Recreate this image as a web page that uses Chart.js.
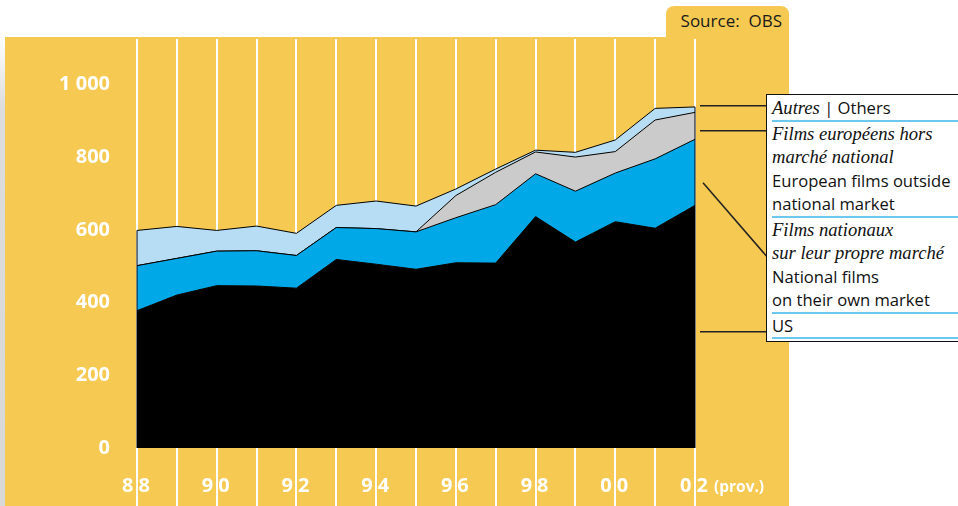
<!DOCTYPE html>
<html>
<head>
<meta charset="utf-8">
<script src="https://cdn.jsdelivr.net/npm/chart.js@4.4.1/dist/chart.umd.min.js"></script>
<style>
  body { margin: 0; background: #fff; }
  #wrap { position: relative; width: 958px; height: 506px; overflow: hidden; font-family: "Open Sans", sans-serif; }
  #panel { position: absolute; left: 5px; top: 37px; width: 784px; height: 469px; background: #F6C952; }
  #shade { position: absolute; left: 0; top: 37px; width: 5px; height: 469px;
           background: linear-gradient(to bottom, #fff, #dcdcdc 70px, #d8d8d8); }
  #source { position: absolute; left: 666px; top: 6px; width: 123px; height: 31px; background: #F6C952;
            border-radius: 8px 8px 0 0; color: #1a1a1a; font-size: 17px; line-height: 29px;
            text-align: right; box-sizing: border-box; padding-right: 7px; white-space: pre; }
  #chartBox { position: absolute; left: 0; top: 0; width: 958px; height: 506px; }
  #leaders { position: absolute; left: 0; top: 0; }
  #legend { position: absolute; left: 766px; top: 94px; width: 220px; height: 248px;
            background: #fff; border: 1.5px solid #111; box-sizing: border-box; padding-top: 1px; }
  .entry { margin-left: 5px; border-bottom: 2px solid #6cc8ef; }
  .entry div { height: 23.5px; line-height: 23.5px; white-space: nowrap; color: #111; }
  .fr { font-family: "Liberation Serif", serif; font-style: italic; font-size: 18.6px; }
  .en { font-family: "Open Sans", sans-serif; font-size: 16.6px; }
</style>
</head>
<body>
<div id="wrap">
  <div id="shade"></div>
  <div id="panel"></div>
  <div id="source">Source:  OBS</div>
  <div id="chartBox"><canvas id="areaChart"></canvas></div>
  <svg id="leaders" width="958" height="506">
    <g stroke="#222" stroke-width="1.5">
      <line x1="700" y1="105.7" x2="767" y2="105.7"/>
      <line x1="700" y1="130.7" x2="767" y2="130.7"/>
      <line x1="703" y1="182.7" x2="767" y2="256.7"/>
      <line x1="700" y1="331.7" x2="767" y2="331.7"/>
    </g>
  </svg>
  <div id="legend">
    <div class="entry"><div><span class="fr">Autres</span><span class="en"> | Others</span></div></div>
    <div class="entry">
      <div class="fr">Films européens hors</div>
      <div class="fr">marché national</div>
      <div class="en">European films outside</div>
      <div class="en">national market</div>
    </div>
    <div class="entry">
      <div class="fr">Films nationaux</div>
      <div class="fr">sur leur propre marché</div>
      <div class="en">National films</div>
      <div class="en">on their own market</div>
    </div>
    <div class="entry"><div class="en">US</div></div>
  </div>
</div>

<script>
// admissions (millions), 1988 - 2002
const years = ['88', '89', '90', '91', '92', '93', '94', '95', '96', '97', '98', '99', '00', '01', '02'];
const shownYears = ['88', '90', '92', '94', '96', '98', '00', '02'];
const yTicks = [0, 200, 400, 600, 800, 1000];

const us = [378, 421, 447, 446, 440, 519, 506, 492, 510, 509, 637, 567, 623, 605, 668];
const national = [124, 101, 95, 97, 90, 88, 98, 103, 124, 161, 118, 140, 134, 191, 182];
const european = [0, 0, 0, 0, 0, 0, 0, 0, 61, 89, 60, 94, 59, 107, 74];
const others = [97, 88, 57, 68, 61, 61, 76, 71, 18, 9, 5, 13, 32, 32, 15];

const labelFont = 'bold 20px "Open Sans"';

// closes the stacked shape on left and right with a thin black edge
const edgePlugin = {
  id: 'edges',
  afterDatasetsDraw(chart) {
    const ctx = chart.ctx;
    const top = chart.getDatasetMeta(3).data;
    const base = chart.scales.y.getPixelForValue(0);
    ctx.save();
    ctx.strokeStyle = '#000';
    ctx.lineWidth = 1;
    [top[0], top[top.length - 1]].forEach(p => {
      ctx.beginPath();
      ctx.moveTo(p.x, p.y);
      ctx.lineTo(p.x, base);
      ctx.stroke();
    });
    ctx.restore();
  }
};

// year labels split across the white grid line: "8|8"
const yearLabelPlugin = {
  id: 'yearLabels',
  afterDraw(chart) {
    const ctx = chart.ctx;
    const xs = chart.scales.x;
    const y = 486;
    ctx.save();
    ctx.fillStyle = '#fff';
    ctx.font = labelFont;
    ctx.textBaseline = 'middle';
    shownYears.forEach(lbl => {
      const x = xs.getPixelForValue(years.indexOf(lbl));
      ctx.textAlign = 'right';
      ctx.fillText(lbl[0], x - 3.5, y);
      ctx.textAlign = 'left';
      ctx.fillText(lbl[1], x + 1.5, y);
      if (lbl === '02') {
        const w = ctx.measureText(lbl[1]).width;
        ctx.font = 'bold 15.5px "Open Sans"';
        ctx.fillText('(prov.)', x + 1.5 + w + 6, y + 2);
        ctx.font = labelFont;
      }
    });
    ctx.restore();
  }
};

function layer(label, data, color, fill) {
  return {
    label, data,
    backgroundColor: color,
    borderColor: '#000',
    borderWidth: 1,
    pointRadius: 0,
    tension: 0,
    fill
  };
}

document.fonts.load(labelFont).finally(() => {
  new Chart(document.getElementById('areaChart'), {
    type: 'line',
    data: {
      labels: years,
      datasets: [
        layer('US', us, '#000000', 'origin'),
        layer('National films on their own market', national, '#00A8E8', '-1'),
        layer('European films outside national market', european, '#CBCBCB', '-1'),
        layer('Others', others, '#B7DDF5', '-1')
      ]
    },
    options: {
      responsive: true,
      maintainAspectRatio: false,
      animation: false,
      layout: { padding: { top: 37, right: 263, bottom: 0, left: 0 } },
      plugins: { legend: { display: false }, tooltip: { enabled: false } },
      scales: {
        x: {
          offset: false,
          border: { display: false },
          grid: { color: '#fff', lineWidth: 2, drawTicks: true, tickLength: 58 },
          ticks: { display: false, autoSkip: false },
          afterFit: s => { s.height = 58; }
        },
        y: {
          stacked: true,
          min: 0,
          max: 1126,
          border: { display: false },
          grid: { display: false, drawTicks: false },
          afterBuildTicks: s => { s.ticks = yTicks.map(v => ({ value: v })); },
          afterFit: s => { s.width = 137; },
          ticks: {
            color: '#fff',
            padding: 27,
            font: { family: 'Open Sans', size: 20, weight: 'bold' },
            callback: v => v >= 1000 ? '1 000' : String(v)
          }
        }
      }
    },
    plugins: [edgePlugin, yearLabelPlugin]
  });
});
</script>
</body>
</html>
